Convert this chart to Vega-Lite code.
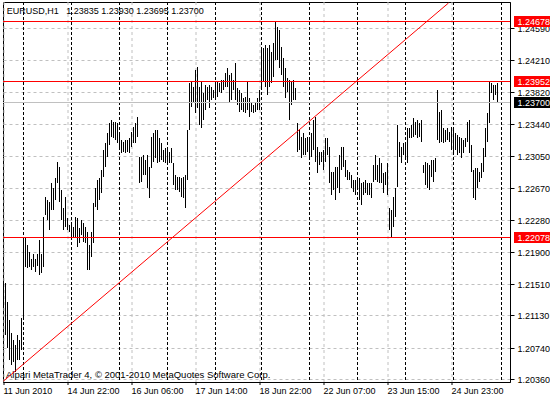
{
"$schema": "https://vega.github.io/schema/vega-lite/v6.json",
"width": 507, "height": 380,
"autosize": {"type": "none"},
"padding": {"left": 3, "top": 2, "right": 40, "bottom": 18},
"background": "white",
"config": {"view": {"stroke": "black", "strokeWidth": 1}, "font": "Liberation Sans", "axis": {"labelOverlap": false}},
"datasets": {
"seps": [{"i":10},{"i":34},{"i":58},{"i":82},{"i":106},{"i":129},{"i":153},{"i":177},{"i":201},{"i":225},{"i":249}],
"levels": [{"price":1.24678,"kind":"level"},{"price":1.23952,"kind":"level"},{"price":1.22078,"kind":"level"},{"price":1.237,"kind":"bid"}],
"header": [{"i":1.6,"price":1.24762,"text":"EURUSD,H1\u00a0\u00a0 1.23835 1.23930 1.23695 1.23700"}],
"trend": [{"i":0,"price":1.20336},{"i":222.5,"price":1.2489}],
"bars": [
{"i":0,"hi":1.2152,"price":1.2123},{"i":1,"hi":1.2152,"price":1.2089},{"i":2,"hi":1.2129,"price":1.2074},{"i":3,"hi":1.2108,"price":1.2059},{"i":4,"hi":1.2092,"price":1.2053},
{"i":5,"hi":1.2083,"price":1.2057},{"i":6,"hi":1.2077,"price":1.2045},{"i":7,"hi":1.2089,"price":1.2059},{"i":8,"hi":1.2083,"price":1.2059},{"i":9,"hi":1.2110,"price":1.2071},
{"i":10,"hi":1.2206,"price":1.2110},{"i":11,"hi":1.2208,"price":1.2171},{"i":12,"hi":1.2198,"price":1.2170},{"i":13,"hi":1.2189,"price":1.2171},{"i":14,"hi":1.2181,"price":1.2168},
{"i":15,"hi":1.2187,"price":1.2171},{"i":16,"hi":1.2181,"price":1.2165},{"i":17,"hi":1.2187,"price":1.2173},{"i":18,"hi":1.2204,"price":1.2162},{"i":19,"hi":1.2187,"price":1.2164},
{"i":20,"hi":1.2232,"price":1.2171},{"i":21,"hi":1.2256,"price":1.2234},{"i":22,"hi":1.2252,"price":1.2228},{"i":23,"hi":1.2250,"price":1.2216},{"i":24,"hi":1.2273,"price":1.2240},
{"i":25,"hi":1.2267,"price":1.2240},{"i":26,"hi":1.2279,"price":1.2252},{"i":27,"hi":1.2298,"price":1.2273},{"i":28,"hi":1.2292,"price":1.2250},{"i":29,"hi":1.2264,"price":1.2228},
{"i":30,"hi":1.2242,"price":1.2216},{"i":31,"hi":1.2256,"price":1.2220},{"i":32,"hi":1.2230,"price":1.2216},{"i":33,"hi":1.2222,"price":1.2214},{"i":34,"hi":1.2226,"price":1.2206},
{"i":35,"hi":1.2220,"price":1.2208},{"i":36,"hi":1.2232,"price":1.2208},{"i":37,"hi":1.2230,"price":1.2195},{"i":38,"hi":1.2218,"price":1.2200},{"i":39,"hi":1.2228,"price":1.2210},
{"i":40,"hi":1.2224,"price":1.2202},{"i":41,"hi":1.2220,"price":1.2200},{"i":42,"hi":1.2214,"price":1.2168},{"i":43,"hi":1.2198,"price":1.2168},{"i":44,"hi":1.2214,"price":1.2183},
{"i":45,"hi":1.2248,"price":1.2200},{"i":46,"hi":1.2267,"price":1.2244},{"i":47,"hi":1.2276,"price":1.2240},{"i":48,"hi":1.2279,"price":1.2252},{"i":49,"hi":1.2288,"price":1.2261},
{"i":50,"hi":1.2312,"price":1.2280},{"i":51,"hi":1.2321,"price":1.2292},{"i":52,"hi":1.2333,"price":1.2304},{"i":53,"hi":1.2345,"price":1.2318},{"i":54,"hi":1.2349,"price":1.2328},
{"i":55,"hi":1.2346,"price":1.2327},{"i":56,"hi":1.2346,"price":1.2324},{"i":57,"hi":1.2345,"price":1.2321},{"i":58,"hi":1.2333,"price":1.2315},{"i":59,"hi":1.2324,"price":1.2309},
{"i":60,"hi":1.2322,"price":1.2310},{"i":61,"hi":1.2324,"price":1.2309},{"i":62,"hi":1.2324,"price":1.2310},{"i":63,"hi":1.2327,"price":1.2309},{"i":64,"hi":1.2334,"price":1.2316},
{"i":65,"hi":1.2340,"price":1.2321},{"i":66,"hi":1.2345,"price":1.2321},{"i":67,"hi":1.2352,"price":1.2328},{"i":68,"hi":1.2304,"price":1.2273},{"i":69,"hi":1.2304,"price":1.2274},
{"i":70,"hi":1.2306,"price":1.2282},{"i":71,"hi":1.2300,"price":1.2282},{"i":72,"hi":1.2306,"price":1.2267},{"i":73,"hi":1.2292,"price":1.2254},{"i":74,"hi":1.2328,"price":1.2291},
{"i":75,"hi":1.2333,"price":1.2298},{"i":76,"hi":1.2336,"price":1.2303},{"i":77,"hi":1.2336,"price":1.2297},{"i":78,"hi":1.2327,"price":1.2298},{"i":79,"hi":1.2321,"price":1.2300},
{"i":80,"hi":1.2312,"price":1.2298},{"i":81,"hi":1.2315,"price":1.2297},{"i":82,"hi":1.2312,"price":1.2297},{"i":83,"hi":1.2310,"price":1.2297},{"i":84,"hi":1.2315,"price":1.2297},
{"i":85,"hi":1.2297,"price":1.2270},{"i":86,"hi":1.2282,"price":1.2264},{"i":87,"hi":1.2280,"price":1.2264},{"i":88,"hi":1.2280,"price":1.2262},{"i":89,"hi":1.2279,"price":1.2256},
{"i":90,"hi":1.2280,"price":1.2254},{"i":91,"hi":1.2282,"price":1.2242},{"i":92,"hi":1.2336,"price":1.2276},{"i":93,"hi":1.2393,"price":1.2336},{"i":94,"hi":1.2394,"price":1.2364},
{"i":95,"hi":1.2388,"price":1.2370},{"i":96,"hi":1.2409,"price":1.2357},{"i":97,"hi":1.2412,"price":1.2363},{"i":98,"hi":1.2388,"price":1.2342},{"i":99,"hi":1.2394,"price":1.2339},
{"i":100,"hi":1.2381,"price":1.2349},{"i":101,"hi":1.2391,"price":1.2361},{"i":102,"hi":1.2388,"price":1.2373},{"i":103,"hi":1.2391,"price":1.2363},{"i":104,"hi":1.2388,"price":1.2373},
{"i":105,"hi":1.2385,"price":1.2375},{"i":106,"hi":1.2391,"price":1.2375},{"i":107,"hi":1.2394,"price":1.2376},{"i":108,"hi":1.2393,"price":1.2382},{"i":109,"hi":1.2397,"price":1.2381},
{"i":110,"hi":1.2397,"price":1.2385},{"i":111,"hi":1.2405,"price":1.2388},{"i":112,"hi":1.2411,"price":1.2388},{"i":113,"hi":1.2403,"price":1.2369},{"i":114,"hi":1.2405,"price":1.2373},
{"i":115,"hi":1.2397,"price":1.2385},{"i":116,"hi":1.2417,"price":1.2373},{"i":117,"hi":1.2387,"price":1.2367},{"i":118,"hi":1.2385,"price":1.2358},{"i":119,"hi":1.2381,"price":1.2361},
{"i":120,"hi":1.2375,"price":1.2358},{"i":121,"hi":1.2376,"price":1.2357},{"i":122,"hi":1.2394,"price":1.2361},{"i":123,"hi":1.2375,"price":1.2352},{"i":124,"hi":1.2369,"price":1.2358},
{"i":125,"hi":1.2367,"price":1.2357},{"i":126,"hi":1.2369,"price":1.2358},{"i":127,"hi":1.2375,"price":1.2361},{"i":128,"hi":1.2385,"price":1.2361},{"i":129,"hi":1.2433,"price":1.2385},
{"i":130,"hi":1.2435,"price":1.2394},{"i":131,"hi":1.2439,"price":1.2388},{"i":132,"hi":1.2435,"price":1.2379},{"i":133,"hi":1.2439,"price":1.2388},{"i":134,"hi":1.2430,"price":1.2393},
{"i":135,"hi":1.2441,"price":1.2400},{"i":136,"hi":1.2468,"price":1.2421},{"i":137,"hi":1.2461,"price":1.2421},{"i":138,"hi":1.2457,"price":1.2411},{"i":139,"hi":1.2437,"price":1.2403},
{"i":140,"hi":1.2423,"price":1.2388},{"i":141,"hi":1.2411,"price":1.2375},{"i":142,"hi":1.2399,"price":1.2382},{"i":143,"hi":1.2397,"price":1.2349},{"i":144,"hi":1.2394,"price":1.2367},
{"i":145,"hi":1.2397,"price":1.2373},{"i":146,"hi":1.2387,"price":1.2373},{"i":147,"hi":1.2345,"price":1.2310},{"i":148,"hi":1.2336,"price":1.2312},{"i":149,"hi":1.2328,"price":1.2303},
{"i":150,"hi":1.2333,"price":1.2306},{"i":151,"hi":1.2327,"price":1.2306},{"i":152,"hi":1.2328,"price":1.2310},{"i":153,"hi":1.2324,"price":1.2303},{"i":154,"hi":1.2333,"price":1.2304},
{"i":155,"hi":1.2349,"price":1.2312},{"i":156,"hi":1.2352,"price":1.2298},{"i":157,"hi":1.2316,"price":1.2285},{"i":158,"hi":1.2310,"price":1.2294},{"i":159,"hi":1.2310,"price":1.2298},
{"i":160,"hi":1.2312,"price":1.2288},{"i":161,"hi":1.2327,"price":1.2298},{"i":162,"hi":1.2327,"price":1.2306},{"i":163,"hi":1.2316,"price":1.2273},{"i":164,"hi":1.2286,"price":1.2258},
{"i":165,"hi":1.2286,"price":1.2264},{"i":166,"hi":1.2292,"price":1.2252},{"i":167,"hi":1.2292,"price":1.2267},{"i":168,"hi":1.2306,"price":1.2261},{"i":169,"hi":1.2316,"price":1.2288},
{"i":170,"hi":1.2316,"price":1.2292},{"i":171,"hi":1.2300,"price":1.2280},{"i":172,"hi":1.2288,"price":1.2276},{"i":173,"hi":1.2286,"price":1.2276},{"i":174,"hi":1.2282,"price":1.2267},
{"i":175,"hi":1.2276,"price":1.2262},{"i":176,"hi":1.2276,"price":1.2258},{"i":177,"hi":1.2279,"price":1.2264},{"i":178,"hi":1.2279,"price":1.2252},{"i":179,"hi":1.2273,"price":1.2246},
{"i":180,"hi":1.2274,"price":1.2258},{"i":181,"hi":1.2276,"price":1.2261},{"i":182,"hi":1.2273,"price":1.2258},{"i":183,"hi":1.2273,"price":1.2258},{"i":184,"hi":1.2273,"price":1.2254},
{"i":185,"hi":1.2294,"price":1.2274},{"i":186,"hi":1.2306,"price":1.2276},{"i":187,"hi":1.2294,"price":1.2274},{"i":188,"hi":1.2303,"price":1.2273},{"i":189,"hi":1.2297,"price":1.2273},
{"i":190,"hi":1.2285,"price":1.2261},{"i":191,"hi":1.2286,"price":1.2270},{"i":192,"hi":1.2297,"price":1.2258},{"i":193,"hi":1.2242,"price":1.2216},{"i":194,"hi":1.2240,"price":1.2208},
{"i":195,"hi":1.2256,"price":1.2220},{"i":196,"hi":1.2267,"price":1.2232},{"i":197,"hi":1.2342,"price":1.2268},{"i":198,"hi":1.2322,"price":1.2304},{"i":199,"hi":1.2316,"price":1.2297},
{"i":200,"hi":1.2321,"price":1.2306},{"i":201,"hi":1.2318,"price":1.2304},{"i":202,"hi":1.2339,"price":1.2297},{"i":203,"hi":1.2339,"price":1.2327},{"i":204,"hi":1.2342,"price":1.2327},
{"i":205,"hi":1.2351,"price":1.2328},{"i":206,"hi":1.2346,"price":1.2330},{"i":207,"hi":1.2349,"price":1.2327},{"i":208,"hi":1.2345,"price":1.2328},{"i":209,"hi":1.2349,"price":1.2322},
{"i":210,"hi":1.2294,"price":1.2285},{"i":211,"hi":1.2298,"price":1.2270},{"i":212,"hi":1.2297,"price":1.2267},{"i":213,"hi":1.2294,"price":1.2264},{"i":214,"hi":1.2300,"price":1.2280},
{"i":215,"hi":1.2300,"price":1.2274},{"i":216,"hi":1.2303,"price":1.2286},{"i":217,"hi":1.2385,"price":1.2324},{"i":218,"hi":1.2358,"price":1.2321},{"i":219,"hi":1.2361,"price":1.2322},
{"i":220,"hi":1.2339,"price":1.2321},{"i":221,"hi":1.2336,"price":1.2322},{"i":222,"hi":1.2339,"price":1.2324},{"i":223,"hi":1.2334,"price":1.2322},{"i":224,"hi":1.2340,"price":1.2312},
{"i":225,"hi":1.2339,"price":1.2309},{"i":226,"hi":1.2333,"price":1.2312},{"i":227,"hi":1.2330,"price":1.2306},{"i":228,"hi":1.2328,"price":1.2309},{"i":229,"hi":1.2327,"price":1.2303},
{"i":230,"hi":1.2324,"price":1.2309},{"i":231,"hi":1.2327,"price":1.2316},{"i":232,"hi":1.2346,"price":1.2322},{"i":233,"hi":1.2349,"price":1.2309},{"i":234,"hi":1.2318,"price":1.2286},
{"i":235,"hi":1.2288,"price":1.2254},{"i":236,"hi":1.2291,"price":1.2252},{"i":237,"hi":1.2291,"price":1.2267},{"i":238,"hi":1.2286,"price":1.2274},{"i":239,"hi":1.2297,"price":1.2279},
{"i":240,"hi":1.2315,"price":1.2286},{"i":241,"hi":1.2339,"price":1.2304},{"i":242,"hi":1.2357,"price":1.2322},{"i":243,"hi":1.2395,"price":1.2345},{"i":244,"hi":1.2393,"price":1.2381},
{"i":245,"hi":1.2391,"price":1.2373},{"i":246,"hi":1.2391,"price":1.2379},{"i":247,"hi":1.2393,"price":1.23695}
]
},
"encoding": {
  "y": {"field": "price", "type": "quantitative",
     "scale": {"domain": [1.20328, 1.24907], "nice": false, "zero": false, "round": true},
     "axis": {"orient": "right", "values": [1.2036,1.2074,1.2113,1.2151,1.219,1.2228,1.2267,1.2305,1.2344,1.2382,1.2421,1.2459],
       "format": ".5f", "grid": true, "gridColor": "#c0c0c0", "gridDash": [3, 3], "gridWidth": 1,
       "domainColor": "black", "tickColor": "black", "tickSize": 4, "labelPadding": 3,
       "labelFont": "Liberation Sans", "labelFontSize": 9, "labelColor": "black",
       "labelOverlap": false, "labelFlush": false, "labelBound": false, "title": null}}
},
"layer": [
{"data": {"name": "seps"},
 "mark": {"type": "rule", "color": "black", "strokeDash": [3, 2], "strokeWidth": 1},
 "encoding": {"y": null, "x": {"field": "i", "type": "quantitative",
   "scale": {"domain": [-0.25, 253.25], "nice": false, "zero": false},
   "axis": {"values": [0,16,32,48,64,80,96,112,128,144,160,176,192,208,224,240],
     "translate": 0, "domain": false,
     "grid": true, "gridColor": "#c0c0c0", "gridDash": [3, 3], "gridWidth": 1,
     "tickColor": "black", "tickSize": 3,
     "tickOpacity": {"condition": {"test": "datum.value % 32 === 0", "value": 1}, "value": 0},
     "labelExpr": "datum.value==0?'11 Jun 2010':datum.value==32?'14 Jun 22:00':datum.value==64?'16 Jun 06:00':datum.value==96?'17 Jun 14:00':datum.value==128?'18 Jun 22:00':datum.value==160?'22 Jun 07:00':datum.value==192?'23 Jun 15:00':datum.value==224?'24 Jun 23:00':''",
     "labelAlign": "left", "labelBaseline": "top", "labelPadding": 2, "labelFont": "Liberation Sans", "labelFontSize": 9, "labelColor": "black",
     "labelOverlap": false, "labelFlush": false, "labelBound": false,
     "title": "Alpari MetaTrader 4, © 2001-2010 MetaQuotes Software Corp.", "titleAnchor": "start", "titleAlign": "left", "titleBaseline": "alphabetic",
     "titleX": 3, "titleY": -4, "titleFont": "Liberation Sans", "titleFontSize": 9.5, "titleFontWeight": "normal", "titleColor": "black"}}}},
{"data": {"name": "bars"},
 "mark": {"type": "rule", "color": "black", "strokeWidth": 1},
 "encoding": {"x": {"field": "i", "type": "quantitative"}, "y2": {"field": "hi"}}},
{"data": {"name": "levels"},
 "mark": {"type": "rule", "strokeWidth": 1, "yOffset": 0.5},
 "encoding": {"color": {"condition": {"test": "datum.kind === 'bid'", "value": "#c0c0c0"}, "value": "#ff0000"}}},
{"data": {"name": "trend"},
 "mark": {"type": "line", "color": "#ff0000", "strokeWidth": 1},
 "encoding": {"x": {"field": "i", "type": "quantitative"}}},
{"data": {"name": "header"},
 "mark": {"type": "text", "align": "left", "baseline": "alphabetic", "color": "black", "font": "Liberation Sans", "fontSize": 9},
 "encoding": {"x": {"field": "i", "type": "quantitative"}, "text": {"field": "text"}}},
{"data": {"name": "levels"},
 "mark": {"type": "tick", "orient": "horizontal", "thickness": 11, "size": 37, "opacity": 1, "yOffset": 0.5},
 "encoding": {"x": {"datum": 264.5, "type": "quantitative"},
   "color": {"condition": {"test": "datum.kind === 'bid'", "value": "#000000"}, "value": "#ff0000"}}},
{"data": {"name": "levels"},
 "mark": {"type": "text", "align": "left", "baseline": "middle", "color": "white", "font": "Liberation Sans", "fontSize": 9, "yOffset": 0.5},
 "encoding": {"x": {"datum": 257, "type": "quantitative"},
   "text": {"field": "price", "type": "quantitative", "format": ".5f"}}}
]
}
